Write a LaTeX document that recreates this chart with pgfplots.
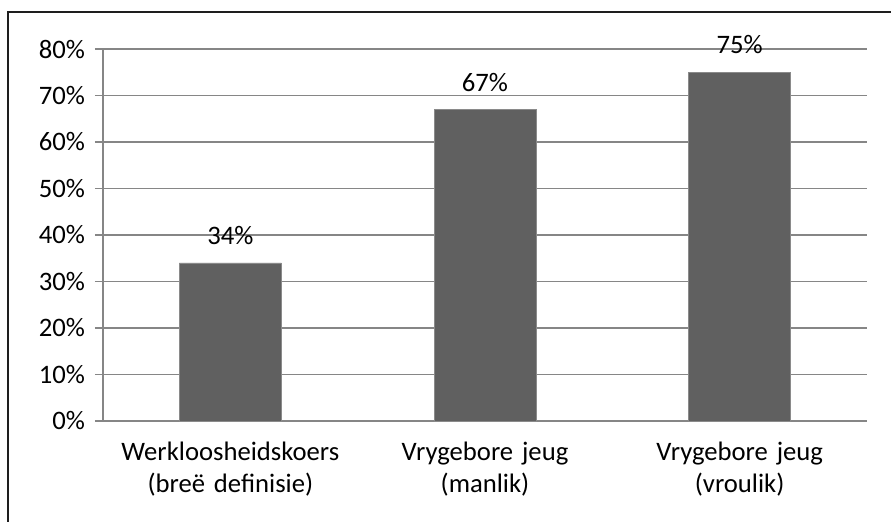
\documentclass[border=0pt]{standalone}
\usepackage{pgfplots}
\pgfplotsset{compat=1.18}
\usepackage{fontspec}
\setmainfont{Carlito}
\definecolor{barfill}{HTML}{606060}
\definecolor{baredge}{HTML}{8A8A8A}
\definecolor{gridc}{HTML}{868686}
\definecolor{framec}{HTML}{1E1E1E}
\begin{document}
\begin{tikzpicture}
\useasboundingbox (0,0) rectangle (668.25pt,390.75pt);
\clip (0,0) rectangle (668.25pt,390.75pt);
\draw[framec, line width=1.6pt] (6pt,-20pt) rectangle (700pt,381.75pt);
\begin{axis}[
  at={(77.25pt,75pt)}, anchor=south west,
  scale only axis, width=573pt, height=279pt,
  xmin=-0.5, xmax=2.5, ymin=0, ymax=80,
  axis x line*=bottom, axis y line*=left,
  axis line style={gridc, line width=1.4pt, -},
  ytick={0,10,...,80},
  yticklabel={\pgfmathprintnumber{\tick}\%},
  ymajorgrids, grid style={gridc, line width=1.4pt},
  ytick style={gridc, line width=1.4pt},
  major tick length=6pt, tick align=outside,
  xtick={0,1,2},
  xticklabels={{Werkloosheidskoers\\(breë definisie)},{Vrygebore jeug\\(manlik)},{Vrygebore jeug\\(vroulik)}},
  xtick style={draw=none},
  extra x ticks={-0.5,0.5,1.5,2.5},
  extra x tick labels={},
  extra x tick style={xtick style={gridc, line width=1.4pt}, major tick length=6pt, tick align=outside, grid=none},
  xticklabel style={align=center, text width=200pt, font=\fontsize{20}{24}\selectfont, yshift=-6pt},
  yticklabel style={font=\fontsize{20}{24}\selectfont, xshift=-4pt},
  /pgf/number format/assume math mode=true,
  clip=false,
  nodes near coords={\pgfmathprintnumber{\pgfplotspointmeta}\%},
  nodes near coords style={font=\fontsize{20}{24}\selectfont, yshift=10pt},
]
\addplot[ybar, bar width=76.5pt, fill=barfill, draw=baredge, line width=0.6pt] coordinates {(0,34) (1,67) (2,75)};
\end{axis}
\end{tikzpicture}
\end{document}
